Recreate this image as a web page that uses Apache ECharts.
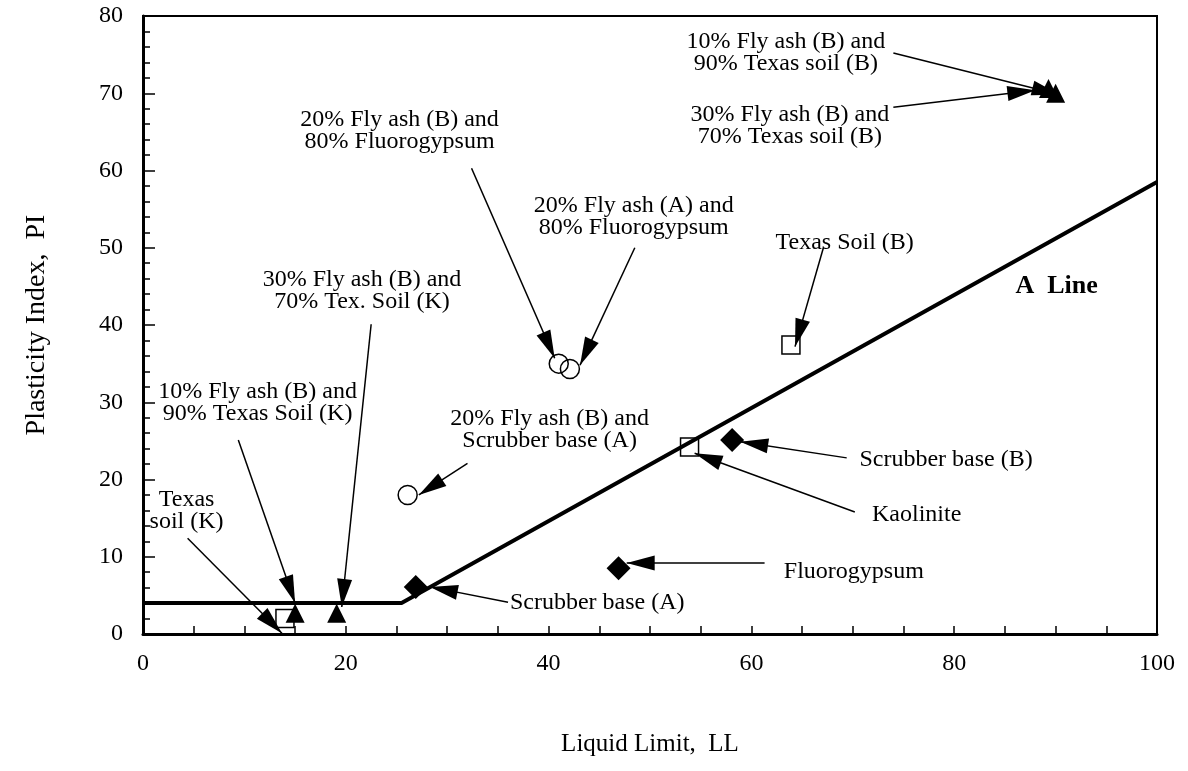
<!DOCTYPE html>
<html>
<head>
<meta charset="utf-8">
<script src="https://cdn.jsdelivr.net/npm/echarts@6/dist/echarts.min.js"></script>
<style>
  html, body { margin: 0; padding: 0; background: #fff; }
  #plasticityChart { width: 1188px; height: 771px; }
</style>
</head>
<body>
<div id="plasticityChart"></div>
<script>
// points: [LL, PI]
var openSquares = [[14, 2], [53.9, 24.2], [63.9, 37.4]];
var openCircles = [[26.1, 18.0], [41.0, 35.0], [42.1, 34.3]];
var filledDiamonds = [[26.9, 6.1], [46.9, 8.5], [58.1, 25.1]];
var filledTriangles = [[15, 2.7], [19.1, 2.7], [89.3, 70.6], [90, 70]];

// A line corners
var aLine = [[0, 4], [25.5, 4], [100, 58.5]];

// annotation texts and where they sit
var noteTexts = [
  'Texas\nsoil (K)',
  '10% Fly ash (B) and\n90% Texas Soil (K)',
  '30% Fly ash (B) and\n70% Tex. Soil (K)',
  '20% Fly ash (B) and\n80% Fluorogypsum',
  '20% Fly ash (A) and\n80% Fluorogypsum',
  '10% Fly ash (B) and\n90% Texas soil (B)',
  '30% Fly ash (B) and\n70% Texas soil (B)',
  'Texas Soil (B)',
  '20% Fly ash (B) and\nScrubber base (A)',
  'Scrubber base (B)',
  'Kaolinite',
  'Fluorogypsum',
  'Scrubber base (A)'
];
var notePos = [
  [4.3, 15.9], [11.3, 30.0], [21.6, 44.5], [25.3, 65.1], [48.4, 54.0],
  [63.4, 75.2], [63.8, 65.8], [69.2, 50.7], [40.1, 26.4], [79.2, 22.5],
  [76.3, 15.4], [70.1, 8.0], [44.8, 4.0]
];

// arrows: from -> tip
var arrowFrom = [
  [4.4, 12.4], [9.4, 25.1], [22.5, 40.1], [32.4, 60.3], [48.5, 50.0],
  [74.0, 75.2], [74.0, 68.2], [67.1, 50.0], [32.0, 22.1], [69.4, 22.8],
  [70.2, 15.8], [61.3, 9.2], [36.0, 4.1]
];
var arrowTo = [
  [13.7, 0.1], [15.0, 4.0], [19.6, 3.5], [40.6, 35.7], [43.1, 34.8],
  [90.4, 69.8], [88.0, 70.4], [64.3, 37.2], [27.2, 18.0], [58.9, 24.9],
  [54.4, 23.4], [47.7, 9.2], [28.3, 6.1]
];

var xTicks = [0, 20, 40, 60, 80, 100];
var yTicks = [0, 10, 20, 30, 40, 50, 60, 70, 80];

var serif = '"Liberation Serif", "Times New Roman", serif';

var chartDom = document.getElementById('plasticityChart');
var myChart = echarts.init(chartDom);

var arrowData = arrowFrom.map(function (p, i) {
  return [{ coord: p }, { coord: arrowTo[i] }];
});
var noteData = notePos.map(function (p, i) {
  return { value: p, name: noteTexts[i] };
});

var option = {
  animation: false,
  backgroundColor: '#fff',
  grid: {
    left: 143, top: 16, right: 31, bottom: 137,
    show: true, borderColor: '#000', borderWidth: 2
  },
  xAxis: {
    type: 'value', min: 0, max: 100, interval: 20,
    name: 'Liquid Limit,  LL', nameLocation: 'middle', nameGap: 98,
    nameTextStyle: { fontFamily: serif, fontSize: 25, color: '#000' },
    axisLine: { lineStyle: { color: '#000', width: 3 } },
    axisTick: { inside: true, length: 8, lineStyle: { color: '#000', width: 1.5 } },
    minorTick: { show: true, splitNumber: 4, length: 8, lineStyle: { color: '#000', width: 1.5 } },
    splitLine: { show: false },
    axisLabel: {
      fontFamily: serif, fontSize: 24, color: '#000', margin: 18,
      formatter: function (v) { return xTicks.indexOf(v) >= 0 ? v : ''; }
    }
  },
  yAxis: {
    type: 'value', min: 0, max: 80, interval: 10,
    name: 'Plasticity Index,  PI', nameLocation: 'middle', nameGap: 92,
    nameTextStyle: { fontFamily: serif, fontSize: 28, color: '#000' },
    axisLine: { lineStyle: { color: '#000', width: 3 } },
    axisTick: { inside: true, length: 12, lineStyle: { color: '#000', width: 1.5 } },
    minorTick: { show: true, splitNumber: 5, length: 7, lineStyle: { color: '#000', width: 1.5 } },
    splitLine: { show: false },
    axisLabel: {
      fontFamily: serif, fontSize: 24, color: '#000', margin: 20,
      formatter: function (v) { return yTicks.indexOf(v) >= 0 ? v : ''; }
    }
  },
  series: [
    {
      name: 'squares', type: 'scatter', data: openSquares,
      symbol: 'rect', symbolSize: 18, z: 2,
      itemStyle: { color: '#fff', borderColor: '#000', borderWidth: 1.5, opacity: 1 }
    },
    {
      name: 'A Line', type: 'line', data: aLine, symbol: 'none', z: 3,
      lineStyle: { color: '#000', width: 4 }
    },
    {
      name: 'circles', type: 'scatter', data: openCircles,
      symbol: 'circle', symbolSize: 19, z: 4,
      itemStyle: { color: 'rgba(255,255,255,0)', borderColor: '#000', borderWidth: 1.5, opacity: 1 }
    },
    {
      name: 'diamonds', type: 'scatter', data: filledDiamonds,
      symbol: 'diamond', symbolSize: 24, z: 4,
      itemStyle: { color: '#000', opacity: 1 }
    },
    {
      name: 'triangles', type: 'scatter', data: filledTriangles,
      symbol: 'triangle', symbolSize: 19, z: 4,
      itemStyle: { color: '#000', opacity: 1 }
    },
    {
      name: 'notes', type: 'scatter', data: noteData,
      symbolSize: 0, z: 5, silent: true,
      itemStyle: { opacity: 1 },
      label: {
        show: true, position: 'inside', formatter: '{b}',
        fontFamily: serif, fontSize: 24, lineHeight: 22, color: '#000', align: 'center'
      },
      markLine: {
        silent: true, animation: false,
        symbol: ['none', 'triangle'],
        symbolSize: [15, 28],
        symbolOffset: [0, [0, '50%']],
        label: { show: false },
        lineStyle: { color: '#000', width: 1.5, type: 'solid', opacity: 1 },
        emphasis: { disabled: true },
        data: arrowData
      }
    },
    {
      name: 'A Line label', type: 'scatter', data: [{ value: [90.1, 45.0], name: 'A  Line' }],
      symbolSize: 0, z: 5, silent: true,
      itemStyle: { opacity: 1 },
      label: {
        show: true, position: 'inside', formatter: '{b}',
        fontFamily: serif, fontSize: 26, fontWeight: 'bold', color: '#000'
      }
    }
  ]
};

option && myChart.setOption(option);
</script>
</body>
</html>
